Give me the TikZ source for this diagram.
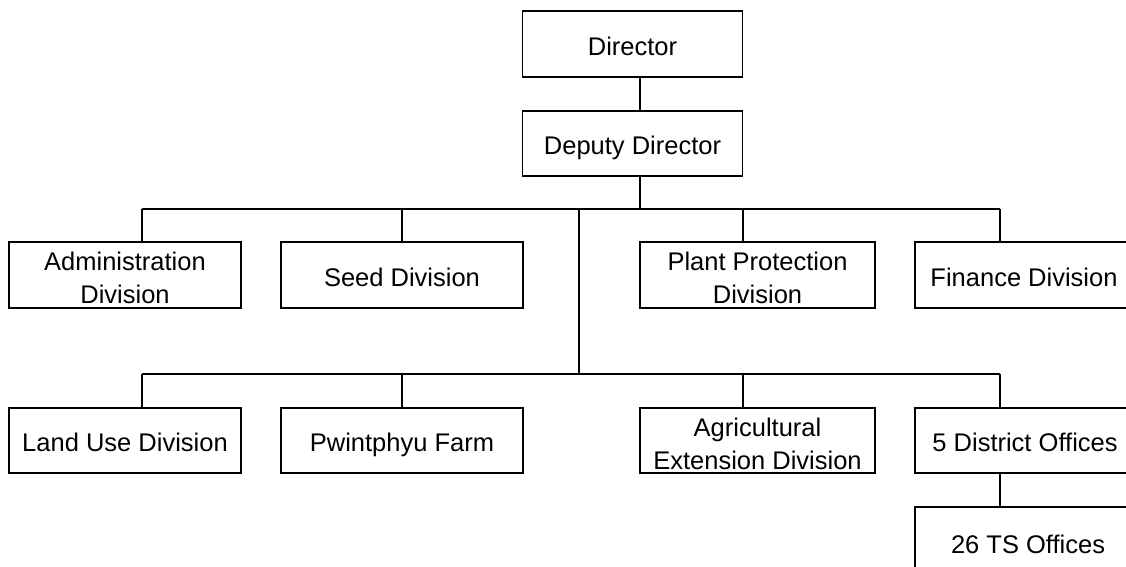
\documentclass[tikz,border=0pt]{standalone}
\usepackage{fontspec}
\setmainfont{Liberation Sans}
\begin{document}
\begin{tikzpicture}[x=1pt,y=-1pt,
  box/.style={draw,line width=1.8pt,rectangle,inner sep=0pt,align=center,
    font=\fontsize{25.5}{33}\selectfont},
  oneline/.style={box,text height=22pt,text depth=0pt},
  twoline/.style={box,text height=57pt,text depth=0pt},
  link/.style={line width=1.8pt}]
\clip (0,0) rectangle (1126,566);

% top of the chart
\node[oneline,minimum width=220,minimum height=66] (director) at (632.5,44) {Director};
\node[oneline,minimum width=220,minimum height=65] (deputy) at (632.5,143.5) {Deputy Director};

% first row of divisions
\node[twoline,minimum width=232,minimum height=66] (admin) at (125,275) {Administration\\Division};
\node[oneline,minimum width=242,minimum height=66] (seed) at (402,275) {Seed Division};
\node[twoline,minimum width=235,minimum height=66] (plant) at (757.5,275) {Plant Protection\\Division};
\node[oneline,minimum width=218,minimum height=66] (finance) at (1024,275) {Finance Division};

% second row
\node[oneline,minimum width=232,minimum height=65] (landuse) at (125,440.5) {Land Use Division};
\node[oneline,minimum width=242,minimum height=65] (farm) at (402,440.5) {Pwintphyu Farm};
\node[twoline,minimum width=235,minimum height=65] (agri) at (757.5,440.5) {Agricultural\\Extension Division};
\node[oneline,minimum width=220,minimum height=65] (district) at (1025,440.5) {5 District Offices};
\node[oneline,minimum width=226,minimum height=70] (ts) at (1028,542) {26 TS Offices};

% junction points of the two bus lines
\coordinate (spine) at (640,209);
\coordinate (hubA) at (579,209);
\coordinate (hubB) at (579,375);
\coordinate (a1) at (142,209);
\coordinate (a3) at (743,209);
\coordinate (a4) at (1000,209);
\coordinate (b1) at (142,374);
\coordinate (b3) at (743,374);
\coordinate (b4) at (1000,374);

% director to deputy, deputy to first bus
\draw[link] (director.south -| spine) -- (deputy.north -| spine);
\draw[link] (deputy.south -| spine) -- (spine);

% first bus and its drops
\draw[link] (a1) -- (a4);
\draw[link] (a1) -- (admin.north -| a1);
\draw[link] (seed.north |- a1) -- (seed.north);
\draw[link] (a3) -- (plant.north -| a3);
\draw[link] (a4) -- (finance.north -| a4);

% central trunk down to the second bus
\draw[link] (hubA) -- (hubB);

% second bus and its drops
\draw[link] (b1) -- (b4);
\draw[link] (b1) -- (landuse.north -| b1);
\draw[link] (farm.north |- b1) -- (farm.north);
\draw[link] (b3) -- (agri.north -| b3);
\draw[link] (b4) -- (district.north -| b4);

% district offices to township offices
\draw[link] (district.south -| b4) -- (ts.north -| b4);
\end{tikzpicture}
\end{document}
